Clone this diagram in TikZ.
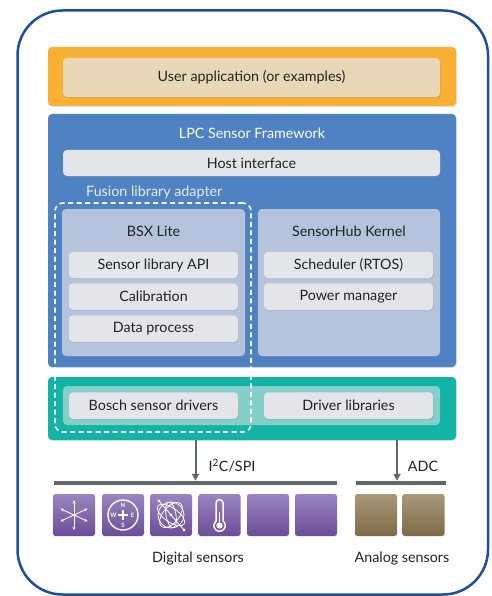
\documentclass[tikz,border=0pt]{standalone}
\usepackage{fontspec}
\setmainfont{Lato}
\usetikzlibrary{arrows.meta,shadows}
\definecolor{frame}{HTML}{1F4E9A}
\definecolor{orng}{HTML}{F8B133}
\definecolor{beige}{HTML}{E8D8B7}
\definecolor{lpcblue}{HTML}{4F82C3}
\definecolor{panel}{HTML}{B5C3DC}
\definecolor{boxgray}{HTML}{E3E5E8}
\definecolor{teal}{HTML}{13B3A6}
\definecolor{band}{HTML}{84CFC7}
\definecolor{txt}{HTML}{222222}
\definecolor{fusetxt}{HTML}{E6ECF5}
\definecolor{busgray}{HTML}{63676C}
\definecolor{purtop}{HTML}{9B85C0}
\definecolor{purbot}{HTML}{6A4C98}
\definecolor{brtop}{HTML}{A8997A}
\definecolor{brbot}{HTML}{7E6A45}
\tikzset{
  lbl/.style={font=\fontsize{14.3}{16}\selectfont, text=txt, inner sep=0pt},
  shad/.style={drop shadow={opacity=0.22, shadow xshift=0.8pt, shadow yshift=-0.9pt}},
  layer/.style={rounded corners=4pt, inner sep=0pt, shad},
  item/.style={layer, lbl, fill=boxgray, minimum width=169pt, minimum height=26.5pt},
  tile/.style={rounded corners=2.5pt, inner sep=0pt, minimum width=42pt, minimum height=42pt},
  dtile/.style={tile, top color=purtop, bottom color=purbot},
  atile/.style={tile, top color=brtop, bottom color=brbot},
  bus/.style={fill=busgray, inner sep=0pt, minimum height=4pt},
  arr/.style={draw=busgray, line width=2pt, -{Triangle[length=7pt,width=7pt]}},
  ico/.style={draw=white, line width=1.1pt},
  cmp/.style={text=white, font=\fontsize{6}{6}\selectfont\bfseries, inner sep=0pt},
}
\begin{document}
\begin{tikzpicture}[x=1pt,y=-1pt]
\useasboundingbox (0,0) rectangle (491,596);
\fill[white] (0,0) rectangle (491,596);
\draw[frame, line width=2.5pt, rounded corners=45pt] (17.5,10.5) rectangle (488,594.5);

% user layer
\node[layer, fill=orng, minimum width=408pt, minimum height=59pt] (orange) at (252,76.5) {};
\node[layer, lbl, fill=beige, minimum width=377pt, minimum height=39pt] (user) at (251.5,77.5) {User application (or examples)};

% LPC framework
\node[layer, fill=lpcblue, minimum width=408pt, minimum height=253pt] (lpc) at (252,240.5) {};
\node[lbl, text=white] (lpct) at (252,133) {LPC Sensor Framework};
\node[layer, lbl, fill=boxgray, minimum width=377pt, minimum height=26pt] (host) at (251.5,163) {Host interface};
\node[lbl, text=fusetxt, anchor=west] (fuse) at (86,192) {Fusion library adapter};

\node[layer, fill=panel, minimum width=183pt, minimum height=147pt] (bsx) at (153.5,282.5) {};
\node[lbl] (bsxt) at (153.5,231) {BSX Lite};
\node[item] (sla) at (153.5,265) {Sensor library API};
\node[item] (cal) at (153.5,296.5) {Calibration};
\node[item] (dp) at (153.5,328.5) {Data process};

\node[layer, fill=panel, minimum width=182pt, minimum height=147pt] (hub) at (349,282.5) {};
\node[lbl] (hubt) at (349,231) {SensorHub Kernel};
\node[item] (sch) at (348.5,265) {Scheduler (RTOS)};
\node[item] (pm) at (348.5,296.5) {Power manager};

% drivers layer
\node[layer, fill=teal, minimum width=408pt, minimum height=63pt] (drv) at (252,408.5) {};
\node[rounded corners=4pt, inner sep=0pt, fill=band, minimum width=377pt, minimum height=39pt] (bnd) at (251.5,405.5) {};
\node[item] (bosch) at (153.5,405.5) {Bosch sensor drivers};
\node[item] (dl) at (348.5,405.5) {Driver libraries};

% fusion dashed box
\node[draw=white, line width=1.6pt, dash pattern=on 5pt off 3.5pt, rounded corners=8pt,
      minimum width=196pt, minimum height=229pt, inner sep=0pt] (fusebox) at (153,317.5) {};

% buses
\node[bus, minimum width=283pt] (busD) at (195.5,483) {};
\node[bus, minimum width=90pt] (busA) at (401,483) {};
\coordinate (adcx) at (397,483);
\draw[arr] (drv.south -| busD.north) -- (busD.north);
\draw[arr] (drv.south -| adcx) -- (adcx |- busA.north);
\node[lbl] (i2c) at (232,466) {I\textsuperscript{2}C/SPI};
\node[lbl] (adc) at (423,466) {ADC};

% tiles
\node[dtile] (t1) at (74,515) {};
\node[dtile] (t2) at (123,515) {};
\node[dtile] (t3) at (171,515) {};
\node[dtile] (t4) at (219.5,515) {};
\node[dtile] (t5) at (268,515) {};
\node[dtile] (t6) at (316,515) {};
\node[atile] (a1) at (376,515) {};
\node[atile] (a2) at (423.5,515) {};
\node[lbl] (dig) at (198,559) {Digital sensors};
\node[lbl] (ana) at (402,559) {Analog sensors};

% icon 1: axes
\begin{scope}[shift={(t1.center)}, yscale=-1]
  \foreach \a in {90,270,25,155,205,335}
    \draw[ico, line width=0.9pt, -{Stealth[length=3.5pt,width=3pt]}] (0,0) -- (\a:15);
\end{scope}
% icon 2: compass
\begin{scope}[shift={(t2.center)}, yscale=-1]
  \draw[ico, line width=1.4pt] (0,0) circle (15);
  \draw[ico, line width=1.6pt] (-5,0) -- (5,0) (0,-5) -- (0,5);
  \node[cmp] (cn) at (0,10) {N};
  \node[cmp] (cs) at (0,-10) {S};
  \node[cmp] (cw) at (-9.5,0) {W};
  \node[cmp] (ce) at (9.5,0) {E};
\end{scope}
% icon 3: gyroscope
\begin{scope}[shift={(t3.center)}, yscale=-1]
  \draw[ico, line width=0.8pt] (0,0) circle (13);
  \draw[ico, line width=0.8pt, rotate=35] (0,0) ellipse (16 and 7);
  \draw[ico, line width=0.8pt, rotate=-50] (0,0) ellipse (15 and 8);
  \draw[ico, line width=0.8pt, rotate=80] (0,0) ellipse (13 and 5);
  \draw[ico, line width=0.8pt] (-12,14) -- (13,-15);
  \fill[white] (-12,14) circle (1.6) (13,-15) circle (1.6) (0,0) circle (1.6);
\end{scope}
% icon 4: thermometer
\begin{scope}[shift={(t4.center)}, yscale=-1]
  \draw[ico, line width=1.5pt] (-3.5,-6) -- (-3.5,12) arc (180:0:3.5) -- (3.5,-6)
        arc (52:-232:5.7) -- cycle;
  \fill[white] (0,-10.5) circle (3.2);
  \draw[white, line width=1.6pt] (0,-10.5) -- (0,3);
\end{scope}
\end{tikzpicture}
\end{document}
